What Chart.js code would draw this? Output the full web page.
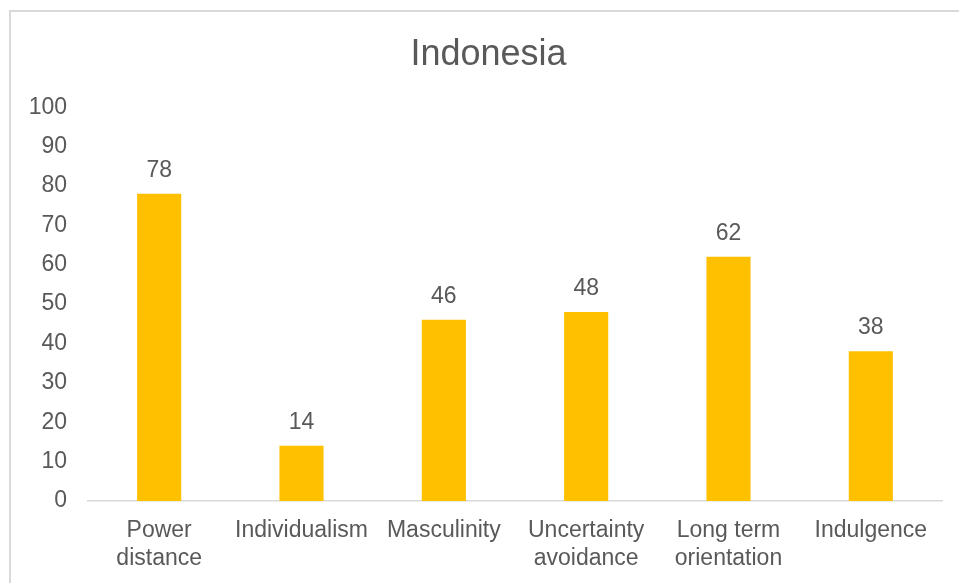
<!DOCTYPE html>
<html>
<head>
<meta charset="utf-8">
<title>Indonesia</title>
<script src="https://cdn.jsdelivr.net/npm/chart.js@4/dist/chart.umd.min.js"></script>
<style>
  html, body { margin: 0; padding: 0; background: #fff; }
  #wrap { position: relative; width: 959px; height: 583px; overflow: hidden; }
  /* light frame around the chart, open to the right and bottom */
  #frame { position: absolute; left: 9px; top: 10px; width: 980px; height: 600px;
           border: 2px solid #d9d9d9; box-sizing: border-box; }
  #myChart { position: absolute; left: 0; top: 0; }
</style>
</head>
<body>
<div id="wrap">
  <div id="frame"></div>
  <canvas id="myChart" width="959" height="583"></canvas>
</div>
<script>
// Hofstede dimensions and scores
const categories = [
  ['Power', 'distance'],
  'Individualism',
  'Masculinity',
  ['Uncertainty', 'avoidance'],
  ['Long term', 'orientation'],
  'Indulgence'
];
const scores = [78, 14, 46, 48, 62, 38];
const yTicks = [0, 10, 20, 30, 40, 50, 60, 70, 80, 90, 100];

const textColor = '#595959';
const fontFamily = '"Liberation Sans", Arial, sans-serif';

// Draw the value above each bar
const valueLabels = {
  id: 'valueLabels',
  afterDatasetsDraw(chart) {
    const ctx = chart.ctx;
    const meta = chart.getDatasetMeta(0);
    ctx.save();
    ctx.font = '23px ' + fontFamily;
    ctx.fillStyle = textColor;
    ctx.textAlign = 'center';
    ctx.textBaseline = 'bottom';
    meta.data.forEach((bar, i) => {
      ctx.fillText(String(chart.data.datasets[0].data[i]), bar.x, bar.y - 12);
    });
    ctx.restore();
  }
};

const ctx = document.getElementById('myChart').getContext('2d');

new Chart(ctx, {
  type: 'bar',
  data: {
    labels: categories,
    datasets: [{
      label: 'Indonesia',
      data: scores,
      backgroundColor: '#FFC000',
      borderWidth: 0,
      categoryPercentage: 1,
      barPercentage: 0.31
    }]
  },
  options: {
    responsive: false,
    animation: false,
    devicePixelRatio: 1,
    layout: { padding: { left: 18, right: 0, top: 0, bottom: 0 } },
    plugins: {
      legend: { display: false },
      tooltip: { enabled: false },
      title: {
        display: true,
        text: 'Indonesia',
        color: textColor,
        font: { family: fontFamily, size: 36, weight: 'normal', lineHeight: 1.2 },
        padding: { top: 33, bottom: 31 }
      }
    },
    scales: {
      x: {
        grid: { display: false, drawTicks: false },
        border: { display: true, color: '#d9d9d9', width: 1.5 },
        ticks: {
          color: textColor,
          font: { family: fontFamily, size: 23, lineHeight: 1.2 },
          padding: 16,
          maxRotation: 0,
          autoSkip: false
        },
        afterFit(scale) { scale.height = 82; }
      },
      y: {
        min: 0,
        max: 100,
        afterBuildTicks(scale) { scale.ticks = yTicks.map(v => ({ value: v })); },
        grid: { display: false, drawTicks: false },
        border: { display: false },
        ticks: {
          color: textColor,
          font: { family: fontFamily, size: 23 },
          padding: 21
        },
        afterFit(scale) { scale.width = 70; }
      },
      // empty right-hand gutter so the plot ends short of the frame edge
      gutter: {
        position: 'right',
        grid: { display: false, drawTicks: false },
        border: { display: false },
        ticks: { display: false },
        afterFit(scale) { scale.width = 17; }
      }
    }
  },
  plugins: [valueLabels]
});
</script>
</body>
</html>
